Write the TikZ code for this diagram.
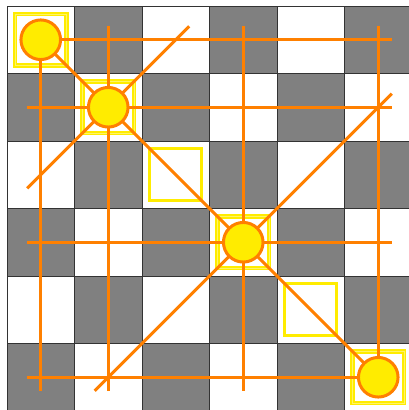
\documentclass[tikz,border=0pt]{standalone}
\definecolor{qyellow}{RGB}{255,236,0}
\definecolor{qorange}{RGB}{255,128,0}
\definecolor{qgray}{RGB}{128,128,128}
\begin{document}
\begin{tikzpicture}[x=1pt,y=-1pt,
  whitecell/.style={fill=white,draw=black!80,line width=0.8},
  graycell/.style={fill=qgray,draw=black!80,line width=0.8},
  hlsq/.style={draw=qyellow,line width=3.3},
  hlsqq/.style={draw=qyellow,line width=1.8,double=qyellow!60,double distance=0.7},
  attack/.style={draw=qorange,line width=3},
  queen/.style={circle,fill=qyellow,draw=qorange,line width=3,minimum size=39.6,inner sep=0}]
\useasboundingbox (0,0) rectangle (409,410);
\clip (0,0) rectangle (409,410);
% board
\foreach \r in {0,...,5}{
  \foreach \c in {0,...,5}{
    \pgfmathtruncatemacro\p{mod(\r+\c,2)}
    \ifnum\p=0
      \path[whitecell] ({7+\c*67.5},{6+\r*67.5}) rectangle ++(67.5,67.5);
    \else
      \path[graycell] ({7+\c*67.5},{6+\r*67.5}) rectangle ++(67.5,67.5);
    \fi
  }
}
% highlighted diagonal cells
\foreach \i in {2,4}{
  \path[hlsq] ({7+\i*67.5+7.7},{6+\i*67.5+7.7}) rectangle ++(52.1,52.1);
}
\foreach \i in {0,1,3,5}{
  \path[hlsqq] ({7+\i*67.5+8},{6+\i*67.5+8}) rectangle ++(51.5,51.5);
}
% line end points
\foreach \k in {0,1,3,5}{
  \coordinate (rl\k) at (27.25,{39.75+67.5*\k});
  \coordinate (rr\k) at (391.75,{39.75+67.5*\k});
  \coordinate (ct\k) at ({40.75+67.5*\k},26.25);
  \coordinate (cb\k) at ({40.75+67.5*\k},390.75);
}
\coordinate (dA) at (27.25,26.25);
\coordinate (dB) at (391.75,390.75);
\coordinate (aA) at (189.25,26.25);
\coordinate (aB) at (27.25,188.25);
\coordinate (bA) at (391.75,93.75);
\coordinate (bB) at (94.75,390.75);
% attack lines
\foreach \k in {0,1,3,5}{
  \draw[attack] (rl\k) -- (rr\k);
  \draw[attack] (ct\k) -- (cb\k);
}
\draw[attack] (dA) -- (dB);
\draw[attack] (aA) -- (aB);
\draw[attack] (bA) -- (bB);
% queens
\node[queen] (q0) at (40.75,39.75) {};
\node[queen] (q1) at (108.25,107.25) {};
\node[queen] (q3) at (243.25,242.25) {};
\node[queen] (q5) at (378.25,377.25) {};
\end{tikzpicture}
\end{document}
